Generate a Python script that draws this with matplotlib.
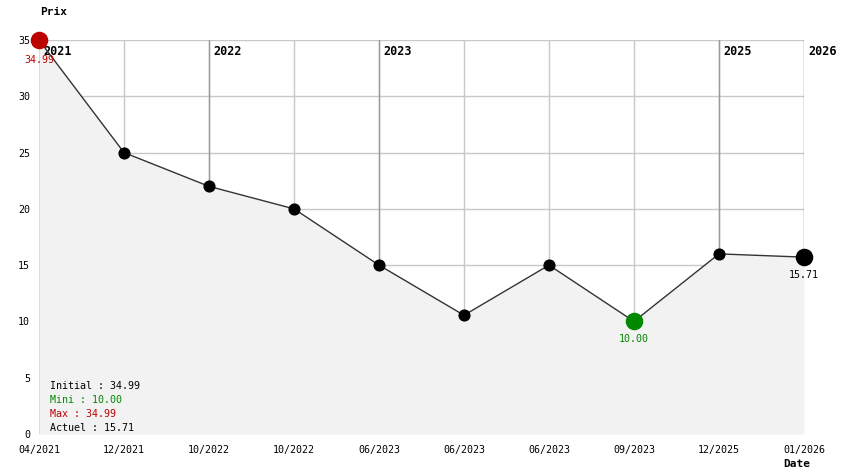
import matplotlib
matplotlib.use('Agg')
import matplotlib.pyplot as plt
import numpy as np

# price history
dates = ['04/2021', '12/2021', '10/2022', '10/2022', '06/2023',
         '06/2023', '06/2023', '09/2023', '12/2025', '01/2026']
prices = [34.99, 25.0, 22.0, 20.0, 15.0, 10.55, 15.0, 10.0, 16.0, 15.71]

plt.rcParams['font.family'] = ['DejaVu Sans Mono']

x = np.arange(len(dates))
fig = plt.figure(figsize=(8.44, 4.74), dpi=100)
ax = fig.add_axes([39/844, 40/474, (804-39)/844, (434-40)/474])
ax.set_xlim(0, len(dates) - 1)
ax.set_ylim(0, 35)

# grid
for yv in range(5, 36, 5):
    ax.axhline(yv, color='#c8c8c8', lw=1, zorder=1)
for xv in x:
    ax.axvline(xv, color='#c8c8c8', lw=1, zorder=1)

# fill under curve
ax.fill_between(x, prices, 0, color='#f2f2f2', zorder=2, lw=0)

# year lines, first occurrence of each year
seen = []
for i, d in enumerate(dates):
    yr = d.split('/')[1]
    if yr not in seen:
        seen.append(yr)
        ax.plot([i, i], [prices[i], 35], color='#999999', lw=1, zorder=3)
        ax.annotate(yr, xy=(i, 35), xytext=(3, -11), textcoords='offset points',
                    fontsize=8.5, fontweight='bold', va='baseline', ha='left',
                    zorder=3.5, annotation_clip=False)

ax.plot(x, prices, color='#333333', lw=1, zorder=4)
ax.scatter(x[1:-1], prices[1:-1], s=60, color='black', zorder=5, clip_on=False)

imin = int(np.argmin(prices))
imax = int(np.argmax(prices))
ax.scatter([x[-1]], [prices[-1]], s=135, color='black', zorder=5, clip_on=False)
ax.scatter([x[imin]], [prices[imin]], s=135, color='#008800', zorder=5, clip_on=False)
ax.scatter([x[imax]], [prices[imax]], s=135, color='#bb0000', zorder=5, clip_on=False)

ax.annotate('%.2f' % prices[imax], xy=(x[imax], prices[imax]), xytext=(0, -14),
            textcoords='offset points', ha='center', va='center', fontsize=7.2,
            color='#bb0000', zorder=6, annotation_clip=False)
ax.annotate('%.2f' % prices[imin], xy=(x[imin], prices[imin]), xytext=(0, -13),
            textcoords='offset points', ha='center', va='center', fontsize=7.2,
            color='#008800', zorder=6, annotation_clip=False)
ax.annotate('%.2f' % prices[-1], xy=(x[-1], prices[-1]), xytext=(0, -13),
            textcoords='offset points', ha='center', va='center', fontsize=7.2,
            color='black', zorder=6, annotation_clip=False)

# summary box
stats = [('Initial : %.2f' % prices[0], 'black'),
         ('Mini : %.2f' % prices[imin], '#008800'),
         ('Max : %.2f' % prices[imax], '#bb0000'),
         ('Actuel : %.2f' % prices[-1], 'black')]
for k, (s, c) in enumerate(stats):
    fig.text(50/844, 1 - (386 + 14*k)/474, s, fontsize=7.2, color=c, va='center', ha='left')

ax.set_xticks(x)
ax.set_xticklabels(dates, fontsize=7.2)
ax.set_yticks(range(0, 36, 5))
ax.set_yticklabels([str(v) for v in range(0, 36, 5)], fontsize=7.2)
ax.tick_params(length=0, pad=8)
ax.tick_params(axis='y', pad=6.5)
for sp in ax.spines.values():
    sp.set_visible(False)

fig.text(40/844, 1 - 12/474, 'Prix', fontsize=8, fontweight='bold', va='center', ha='left')
fig.text(783/844, 1 - 464/474, 'Date', fontsize=8, fontweight='bold', va='center', ha='left')

fig.savefig('out.png', dpi=100)
